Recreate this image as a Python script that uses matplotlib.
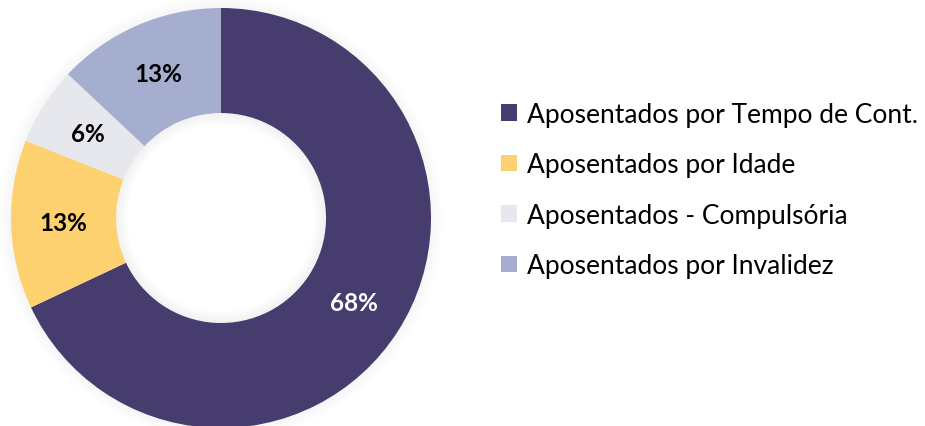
import matplotlib
matplotlib.use("Agg")
import matplotlib.pyplot as plt
from matplotlib.patches import Patch, Wedge

categories = ["Aposentados por Tempo de Cont.", "Aposentados por Idade",
              "Aposentados - Compulsória", "Aposentados por Invalidez"]
values = [68, 13, 6, 13]
colors = ["#463C6E", "#FDD16F", "#E7E8EE", "#A5AECE"]
label_colors = ["white", "black", "black", "black"]

W, H = 925, 427
fig = plt.figure(figsize=(W / 100, H / 100), dpi=100)
ax = fig.add_axes([0, 0, 1, 1])

cx, cy = 221, H - 219
R = 210
ring = 0.5

# soft shadow
for i in range(10):
    r = R + 1 + i * 1.2
    ax.add_patch(Wedge((cx, cy), r, 0, 360, width=1.3, facecolor="black",
                       alpha=0.035 * (1 - i / 10), linewidth=0, zorder=0))
inner = R * (1 - ring)
for i in range(10):
    r = inner - i * 1.2
    ax.add_patch(Wedge((cx, cy), r, 0, 360, width=1.3, facecolor="black",
                       alpha=0.05 * (1 - i / 10), linewidth=0, zorder=3))

wedges, texts, autotexts = ax.pie(
    values, colors=colors, startangle=90, counterclock=False,
    center=(cx, cy), radius=R, autopct="%.0f%%", pctdistance=0.75,
    wedgeprops=dict(width=R * ring, linewidth=0),
    textprops=dict(fontsize=17.5, fontweight="bold", family="Lato"),
    frame=True)
for t, c in zip(autotexts, label_colors):
    t.set_color(c)
    t.set_zorder(5)

ax.set_xlim(0, W)
ax.set_ylim(0, H)
ax.set_aspect("equal")
ax.axis("off")

handles = [Patch(facecolor=c, edgecolor="none") for c in colors]
fig.legend(handles, categories, loc="center left",
           bbox_to_anchor=(501 / W, 1 - 191 / H), frameon=False,
           prop=dict(family="Lato", size=19), handlelength=0.6,
           handleheight=0.6, handletextpad=0.38, labelspacing=0.97,
           borderpad=0, borderaxespad=0)

fig.savefig("out.png", dpi=100, facecolor="white")
